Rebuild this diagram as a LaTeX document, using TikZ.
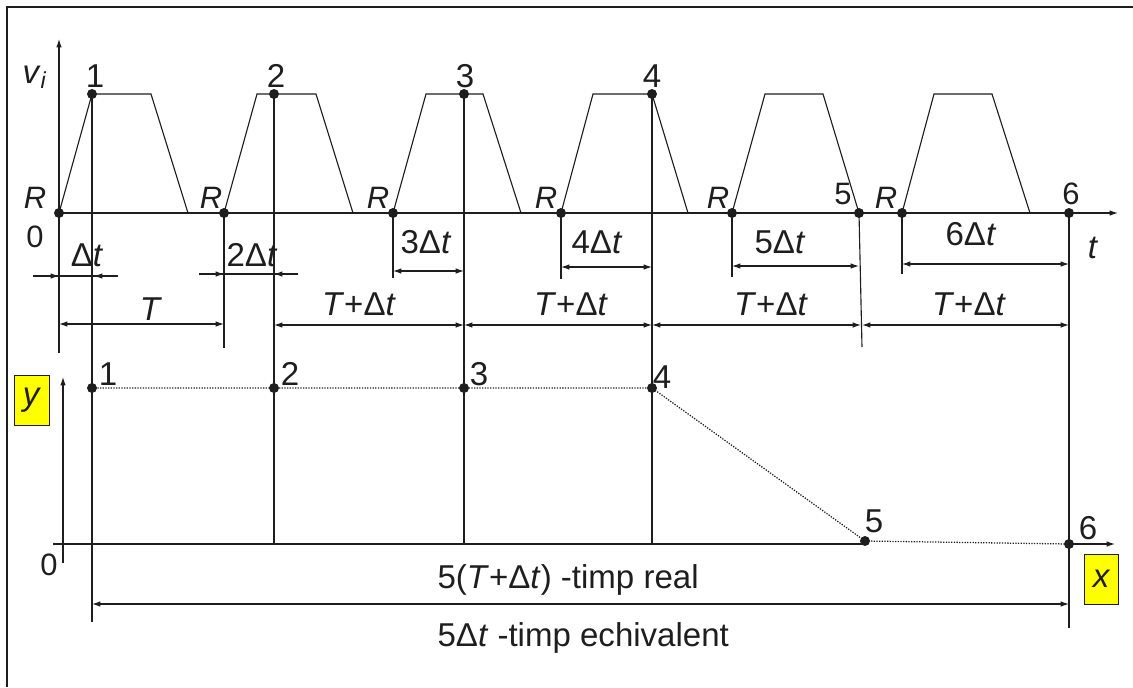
\documentclass[tikz,border=0pt]{standalone}
\usepackage{fontspec}
\setmainfont{Liberation Sans}
\usetikzlibrary{arrows.meta}
\definecolor{lineDark}{HTML}{1E1E1E}
\definecolor{boxYellow}{HTML}{FFFF00}

\begin{document}
\begin{tikzpicture}[x=0.025cm, y=-0.025cm,
    line width=0.8pt, color=lineDark,
    tip/.style={-{Latex[length=6pt,width=4pt]}},
    dim/.style={{Latex[length=6pt,width=4pt]}-{Latex[length=6pt,width=4pt]}},
    lbl/.style={inner sep=0pt, anchor=base, font=\fontsize{23.5}{28}\selectfont},
    rlbl/.style={lbl, font=\fontsize{22}{26}\selectfont},
    ybox/.style={draw, fill=boxYellow, line width=0.6pt, inner sep=0pt,
                 minimum width=0.87cm, minimum height=1.25cm,
                 font=\fontsize{23.5}{28}\selectfont},
    samp/.style={densely dotted, line width=0.9pt},
  ]
    \useasboundingbox (0,0) rectangle (1133,687);
    % frame
    \draw[line width=1.4pt] (7,687) -- (7,7) -- (1133,7);

    % start points R and sampling points
    \coordinate (r1) at (59,213);
    \coordinate (r2) at (224,213);
    \coordinate (r3) at (393,213);
    \coordinate (r4) at (561,213);
    \coordinate (r5) at (732,213);
    \coordinate (r6) at (902,213);
    \coordinate (p1) at (92,94);
    \coordinate (p2) at (274,94);
    \coordinate (p3) at (464,94);
    \coordinate (p4) at (652,94);
    \coordinate (p5) at (859,213);
    \coordinate (p6) at (1069,213);
    \coordinate (vtop) at (59,39);
    \coordinate (tend) at (1118,213);

    % axes v_i, t
    \draw[tip] (59,353) -- (vtop);
    \draw[tip] (r1) -- (tend);

    % pulses
    \draw (r1) -- (p1) -- (151,94) -- (188,213);
    \draw (r2) -- (257,94) -- (316,94) -- (353,213);
    \draw (r3) -- (426,94) -- (483,94) -- (521,213);
    \draw (r4) -- (593,94) -- (p4) -- (688,213);
    \draw (r5) -- (765,94) -- (823,94) -- (p5);
    \draw (r6) -- (934,94) -- (992,94) -- (1030,213);

    % bottom points
    \coordinate (q1) at (92,388);
    \coordinate (q2) at (274,388);
    \coordinate (q3) at (464,388);
    \coordinate (q4) at (652,388);
    \coordinate (q5) at (865,541);
    \coordinate (q6) at (1069,544);

    % vertical guides
    \draw (p1) -- (p1 |- 0,622);
    \draw (p2) -- (p2 |- 0,544);
    \draw (p3) -- (p3 |- 0,544);
    \draw (p4) -- (p4 |- 0,544);
    \draw (p5) -- (862,347);
    \draw (p6) -- (p6 |- 0,628);
    \draw (r2) -- (r2 |- 0,348);
    \draw (r3) -- (r3 |- 0,278);
    \draw (r4) -- (r4 |- 0,279);
    \draw (r5) -- (r5 |- 0,277);
    \draw (r6) -- (r6 |- 0,274);

    % dimensions Delta t
    \draw (33,276) -- (118,276);
    \draw[tip] (33,276) -- (r1 |- 0,276);
    \draw[tip] (118,276) -- (94,276);
    \draw (199,274) -- (298,274);
    \draw[tip] (199,274) -- (r2 |- 0,274);
    \draw[tip] (298,274) -- (p2 |- 0,274);
    \draw[dim] (r3 |- 0,271) -- (p3 |- 0,271);
    \draw[dim] (r4 |- 0,267) -- (p4 |- 0,267);
    \draw[dim] (r5 |- 0,266) -- (p5 |- 0,266);
    \draw[dim] (r6 |- 0,264) -- (p6 |- 0,264);

    % dimensions T
    \draw[dim] (r1 |- 0,324) -- (r2 |- 0,324);
    \draw[dim] (p2 |- 0,325) -- (p3 |- 0,325);
    \draw[dim] (p3 |- 0,325) -- (p4 |- 0,325);
    \draw[dim] (p4 |- 0,325) -- (861,325);
    \draw[dim] (862,325) -- (p6 |- 0,325);

    % x, y axes
    \draw[tip] (63,563) -- (63,377);
    \draw (53,544) -- (865,544);
    \draw[tip] (q6) -- (1115,544);
    \draw[samp] (q1) -- (q2) -- (q3) -- (q4) -- (q5) -- (q6);
    \draw[dim] (q1 |- 0,604) -- (q6 |- 0,604);

    % dots
    \foreach \pt in {r1,r2,r3,r4,r5,r6,p1,p2,p3,p4,p5,p6,q1,q2,q3,q4,q5,q6}
      \fill (\pt) circle[radius=0.125cm];

    % labels top
    \node[lbl, anchor=base west] (lvi) at (22,83) {\textit{v}\textsubscript{\textit{i}}};
    \node[lbl] (l1) at (95,87) {1};
    \node[lbl] (l2) at (276,87) {2};
    \node[lbl] (l3) at (465,87) {3};
    \node[lbl] (l4) at (652,87) {4};
    \node[rlbl] (lr1) at (35,208) {\textit{R}};
    \node[rlbl] (lr2) at (211,208) {\textit{R}};
    \node[rlbl] (lr3) at (378,208) {\textit{R}};
    \node[rlbl] (lr4) at (546,208) {\textit{R}};
    \node[rlbl] (lr5) at (718,208) {\textit{R}};
    \node[rlbl] (lr6) at (886,208) {\textit{R}};
    \node[rlbl] (l5) at (843,204) {5};
    \node[rlbl] (l6) at (1071,204) {6};
    \node[rlbl] (l0) at (35,247) {0};
    \node[lbl] (lt) at (1093,258) {\textit{t}};

    \node[lbl] (ld1) at (87,266) {Δ\textit{t}};
    \node[lbl] (ld2) at (252,266) {2Δ\textit{t}};
    \node[lbl] (ld3) at (426,253) {3Δ\textit{t}};
    \node[lbl] (ld4) at (597,253) {4Δ\textit{t}};
    \node[lbl] (ld5) at (780,253) {5Δ\textit{t}};
    \node[lbl] (ld6) at (971,245) {6Δ\textit{t}};
    \node[lbl] (lT) at (151,320) {\textit{T}};
    \node[lbl] (lT2) at (359,315) {\textit{T}+Δ\textit{t}};
    \node[lbl] (lT3) at (571,315) {\textit{T}+Δ\textit{t}};
    \node[lbl] (lT4) at (771,315) {\textit{T}+Δ\textit{t}};
    \node[lbl] (lT5) at (969,315) {\textit{T}+Δ\textit{t}};

    % labels bottom
    \node[ybox] (ly) at (32,400) {\textit{y}};
    \node[ybox] (lx) at (1101.5,579) {\textit{x}};
    \node[rlbl] (lo) at (49,575) {0};
    \node[lbl] (m1) at (108,385) {1};
    \node[lbl] (m2) at (290,385) {2};
    \node[lbl] (m3) at (479,385) {3};
    \node[lbl] (m4) at (662,388) {4};
    \node[lbl] (m5) at (874,532) {5};
    \node[lbl] (m6) at (1088,539) {6};
    \node[lbl, anchor=base west] (lreal) at (437,588)
      {5(\textit{T}+Δ\textit{t}) -timp real};
    \node[lbl, anchor=base west] (lechiv) at (437,646)
      {5Δ\textit{t} -timp echivalent};
\end{tikzpicture}
\end{document}
